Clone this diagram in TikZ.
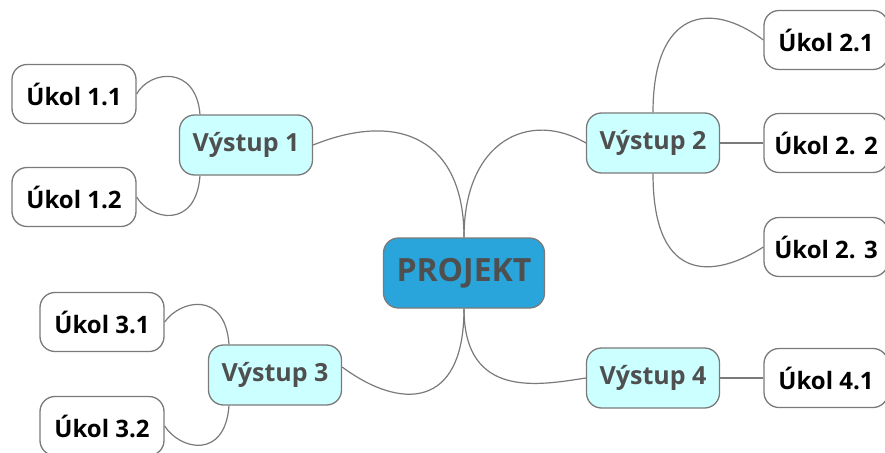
\documentclass[tikz,border=0pt]{standalone}
\usepackage{fontspec}
\setmainfont{Open Sans}
\usetikzlibrary{positioning}

\definecolor{rootblue}{HTML}{2AA5DC}
\definecolor{outcyan}{HTML}{CCFFFF}
\definecolor{edgegray}{HTML}{7A7A7A}
\definecolor{textgray}{HTML}{4F4F4F}

\tikzset{
  box/.style={draw=edgegray, line width=1.3pt, rounded corners=15pt, inner sep=0pt, font=\bfseries},
  root/.style={box, fill=rootblue, text=textgray, minimum width=161pt, minimum height=70pt, font=\bfseries\fontsize{32}{36}\selectfont},
  output/.style={box, fill=outcyan, text=textgray, minimum width=133pt, minimum height=60pt, font=\bfseries\fontsize{25}{29}\selectfont},
  task/.style={box, fill=white, text=black, minimum width=124pt, minimum height=59pt, font=\bfseries\fontsize{24}{28}\selectfont},
  link/.style={draw=edgegray, line width=1.2pt}
}

\begin{document}
\begin{tikzpicture}[x=1pt, y=-1pt]
            \useasboundingbox (0, 0) rectangle (885, 452);
            \clip (0, 0) rectangle (885, 452);
            \node[root] (proj) at (464, 273) {PROJEKT};
            \node[output] (v1) at (246, 145) {Výstup 1};
            \node[output] (v2) at (653, 143) {Výstup 2};
            \node[output] (v3) at (275, 375) {Výstup 3};
            \node[output] (v4) at (653, 378) {Výstup 4};
            \node[task] (u11) at (74, 94) {Úkol 1.1};
            \node[task] (u12) at (74, 197) {Úkol 1.2};
            \node[task] (u21) at (826, 40) {Úkol 2.1};
            \node[task] (u22) at (826, 143) {Úkol 2. 2};
            \node[task] (u23) at (826, 247) {Úkol 2. 3};
            \node[task] (u31) at (102, 322) {Úkol 3.1};
            \node[task] (u32) at (102, 426) {Úkol 3.2};
            \node[task] (u41) at (826, 378) {Úkol 4.1};
            % root to outputs
            \draw[link] (proj.north) .. controls (464, 140) and (400, 110) .. (v1.east);
            \draw[link] (proj.north) .. controls (464, 140) and (530, 110) .. (v2.west);
            \draw[link] (proj.south) .. controls (464, 410) and (400, 410) .. ([yshift=8pt]v3.east);
            \draw[link] (proj.south) .. controls (464, 400) and (540, 385) .. (v4.west);
            % outputs to tasks
            \draw[link] ([xshift=-46pt]v1.north) .. controls (196, 65) and (150, 70) .. (u11.east);
            \draw[link] ([xshift=-46pt]v1.south) .. controls (196, 230) and (150, 220) .. (u12.east);
            \draw[link] (v2.north) .. controls (653, 10) and (710, 0) .. (u21.west);
            \draw[link] (v2) -- (u22);
            \draw[link] (v2.south) .. controls (653, 290) and (720, 275) .. (u23.west);
            \draw[link] ([xshift=-46pt]v3.north) .. controls (225, 290) and (180, 300) .. (u31.east);
            \draw[link] ([xshift=-46pt]v3.south) .. controls (225, 460) and (180, 450) .. (u32.east);
            \draw[link] (v4) -- (u41);
        \end{tikzpicture}
\end{document}
